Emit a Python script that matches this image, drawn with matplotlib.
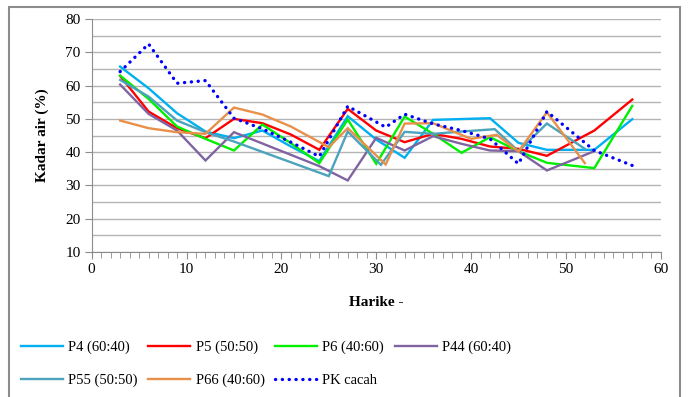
import matplotlib
matplotlib.use("Agg")
import matplotlib.pyplot as plt
from matplotlib.patches import Rectangle
from matplotlib.transforms import Bbox

plt.rcParams['font.family'] = ['Liberation Serif', 'DejaVu Serif']

# data (day, moisture %)
p4_x = [3, 6, 9, 12, 15, 18, 21, 24, 27, 30, 33, 36, 42, 45, 48, 53, 57]
p4_y = [65.7, 59.2, 51.7, 46.2, 44.2, 46.5, 41.7, 37.3, 50.8, 43.8, 38.3, 49.7, 50.2, 42.8, 40.7, 40.7, 49.9]

p5_x = [3, 6, 9, 12, 15, 18, 21, 24, 27, 30, 33, 36, 39, 42, 45, 48, 53, 57]
p5_y = [62.9, 52.2, 47.2, 44.2, 50.0, 48.7, 45.3, 40.7, 53.0, 46.5, 43.0, 45.5, 44.0, 41.7, 41.0, 38.9, 46.5, 55.8]

p6_x = [3, 6, 9, 12, 15, 18, 21, 24, 27, 30, 33, 36, 39, 42, 45, 48, 53, 57]
p6_y = [63.0, 56.0, 47.7, 44.0, 40.5, 48.3, 42.7, 36.7, 49.8, 36.5, 50.7, 45.5, 39.8, 44.5, 40.3, 36.8, 35.2, 53.9]

p44_x = [3, 6, 9, 12, 15, 18, 21, 24, 27, 30, 33, 36, 39, 42, 45, 48, 53]
p44_y = [60.3, 51.5, 46.5, 37.5, 46.0, 42.6, 39.2, 35.8, 31.5, 44.3, 40.5, 44.8, 42.5, 40.5, 40.3, 34.5, 40.3]

p55_x = [3, 6, 9, 12, 15, 25, 27, 30.5, 33, 36, 39, 42.5, 45, 48, 52]
p55_y = [61.7, 56.7, 49.5, 46.0, 43.2, 32.8, 46.2, 36.2, 46.1, 45.5, 46.2, 46.9, 40.3, 48.6, 41.0]

p66_x = [3, 6, 9, 12, 15, 18, 21, 25, 27, 31, 33, 36, 40, 42.7, 45, 48, 52]
p66_y = [49.5, 47.2, 46.0, 45.5, 53.4, 51.3, 47.7, 41.5, 47.2, 36.3, 48.6, 48.7, 44.0, 45.2, 40.2, 52.0, 36.7]

pk_x = [3, 6, 9, 12, 15, 18, 21, 24, 27, 31, 33, 36, 39, 42, 45, 48, 53, 57]
pk_y = [64.2, 72.5, 60.7, 61.5, 50.2, 47.0, 43.0, 38.7, 53.8, 47.5, 51.4, 48.5, 46.5, 44.0, 36.5, 52.2, 40.5, 36.0]

labels = ['P4 (60:40)', 'P5 (50:50)', 'P6 (40:60)', 'P44 (60:40)',
          'P55 (50:50)', 'P66 (40:60)', 'PK cacah']
colors = ['#00B0F0', '#FF0000', '#00F000', '#8064A2', '#4BA3BD', '#E8904A', '#0000FF']

fig = plt.figure(figsize=(6.93, 3.97), dpi=100)
ax = fig.add_axes([0.1323, 0.3652, 0.8211, 0.5869])

series = [(p4_x, p4_y), (p5_x, p5_y), (p6_x, p6_y), (p44_x, p44_y),
          (p55_x, p55_y), (p66_x, p66_y)]
handles = []
for (xs, ys), lab, c in zip(series, labels[:6], colors[:6]):
    h, = ax.plot(xs, ys, color=c, lw=1.7, label=lab, solid_joinstyle='miter')
    handles.append(h)
h, = ax.plot(pk_x, pk_y, color=colors[6], lw=2.4, ls=(0, (0.05, 2.0)),
             dash_capstyle='round', label=labels[6])
handles.append(h)

ax.set_xlim(0, 60)
ax.set_ylim(10, 80)
ax.set_xticks(range(0, 61, 10))
ax.set_xticks(range(0, 61, 1), minor=True)
ax.set_yticks(range(10, 81, 10))
ax.set_yticks(range(15, 80, 10), minor=True)
ax.yaxis.grid(True, which='both', color='#B4B4B4', lw=1.0)
ax.set_axisbelow(True)
for s in ['top', 'right']:
    ax.spines[s].set_visible(False)
for s in ['left', 'bottom']:
    ax.spines[s].set_color('#8C8C8C')
ax.tick_params(axis='both', which='both', color='#8C8C8C', length=5,
               labelsize=11, pad=3)
ax.tick_params(axis='y', which='minor', length=0)
ax.tick_params(axis='x', which='minor', length=4)

ax.set_ylabel('Kadar air (%)', fontsize=11, fontweight='bold', labelpad=12)
ax.set_xlabel('Harike -', fontsize=11, fontweight='bold', labelpad=14)

# legend is filled column by column, so reorder to get rows like the reference
order = [0, 4, 1, 5, 2, 6, 3]
leg = fig.legend([handles[i] for i in order], [labels[i] for i in order],
                 loc='upper left', bbox_to_anchor=(0.011, 0.175), ncol=4,
                 frameon=False, fontsize=10.5, handlelength=2.9,
                 columnspacing=0.72, handletextpad=0.35, labelspacing=1.35)
clip = Bbox.from_extents(0, 0, 680, 397)
for t in leg.get_texts():
    t.set_clip_box(clip)
    t.set_clip_on(True)

fig.patches.append(Rectangle((9 / 693, -0.1), 671 / 693, 1.1 - 7 / 397,
                             transform=fig.transFigure, fill=False,
                             edgecolor='#8C8C8C', lw=1.5))

fig.savefig('out.png', dpi=100)
